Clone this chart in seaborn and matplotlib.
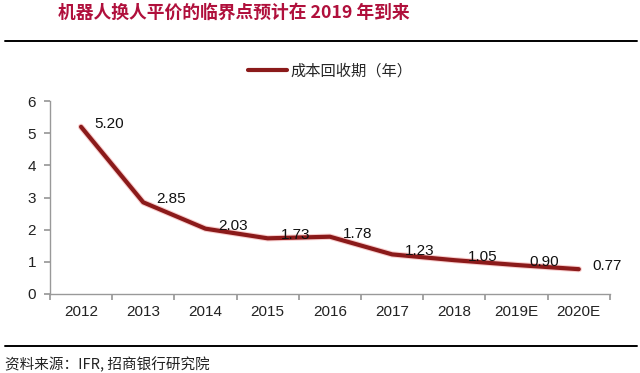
import pandas as pd
import matplotlib
matplotlib.use("Agg")
import matplotlib.pyplot as plt
import matplotlib.patheffects as pe
from matplotlib.lines import Line2D
import seaborn as sns

# data
years = ["2012", "2013", "2014", "2015", "2016", "2017", "2018", "2019E", "2020E"]
payback = [5.20, 2.85, 2.03, 1.73, 1.78, 1.23, 1.05, 0.90, 0.77]
series_name = "成本回收期（年）"
title = "机器人换人平价的临界点预计在 2019 年到来"
source = "资料来源：IFR, 招商银行研究院"

sns.set_theme(style="white")
plt.rcParams["font.family"] = ["Noto Sans CJK SC", "DejaVu Sans"]
num_font = ["Liberation Sans", "DejaVu Sans"]

df = pd.DataFrame({"year": years, "value": payback})

fig = plt.figure(figsize=(6.4, 3.73), dpi=100)
ax = fig.add_axes([0.078, 0.212, 0.875, 0.517])

sns.lineplot(data=df, x="year", y="value", ax=ax, color="#8b1a1a", linewidth=3,
             label=series_name, sort=False,
             path_effects=[pe.Stroke(linewidth=4.5, foreground="#f09090", alpha=0.45), pe.Normal()])

# value labels to the right of each point
for i, v in enumerate(payback):
    ax.annotate(f"{v:.2f}", (i, v), xytext=(28, 3), textcoords="offset pixels",
                ha="center", va="center", fontsize=11, color="#111111", family=num_font)

ax.set_xlim(-0.5, len(years) - 0.5)
ax.set_ylim(0, 6)
ax.set_yticks(range(0, 7))
ax.set_xlabel("")
ax.set_ylabel("")

# axes styling like the original Excel chart
for s in ["top", "right"]:
    ax.spines[s].set_visible(False)
for s in ["left", "bottom"]:
    ax.spines[s].set_color("#999999")
    ax.spines[s].set_linewidth(1)
ax.set_xticks([i - 0.5 for i in range(len(years) + 1)], minor=False)
ax.set_xticklabels([])
ax.set_xticks(range(len(years)), minor=True)
ax.set_xticklabels(years, minor=True)
ax.tick_params(axis="x", which="major", direction="out", length=4, color="#999999", bottom=True)
ax.tick_params(axis="x", which="minor", length=0, pad=8, labelsize=11, bottom=True)
ax.tick_params(axis="y", direction="out", length=4, color="#999999", left=True, labelsize=11, pad=6)
for lab in ax.get_xticklabels(minor=True) + ax.get_yticklabels():
    lab.set_family(num_font)
    lab.set_color("#222222")

leg = ax.legend(loc="lower center", bbox_to_anchor=(0.5, 1.04), frameon=False,
                fontsize=11, handlelength=2.6, handletextpad=0.2)
for h in leg.get_lines():
    h.set_path_effects([])
    h.set_linewidth(3)

# header, rules and footer
fig.text(0.09, 0.965, title, fontsize=12.8, fontweight="bold", color="#b0103c", va="center")
fig.add_artist(Line2D([0.008, 0.995], [0.89, 0.89], color="black", linewidth=1.4))
fig.add_artist(Line2D([0.008, 0.995], [0.072, 0.072], color="black", linewidth=1.4))
fig.text(0.008, 0.022, source, fontsize=10.5, color="#222222", va="center")

fig.savefig("out.png", dpi=100)
